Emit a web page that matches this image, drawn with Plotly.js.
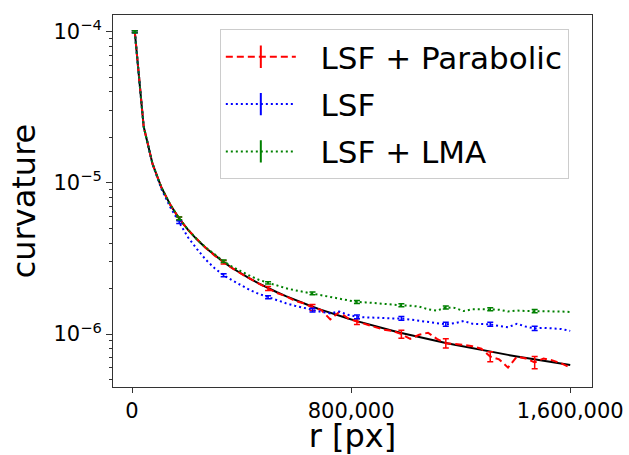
<!DOCTYPE html>
<html>
<head>
<meta charset="utf-8">
<script src="https://cdn.plot.ly/plotly-3.0.1.min.js"></script>
<style>html,body{margin:0;padding:0;background:#fff}#chart{width:629px;height:455px}</style>
</head>
<body>
<div id="chart"></div>
<script>
// radius samples [px]
const rPx = [10000, 42449, 74898, 107347, 139796, 172245, 204694, 237143, 269592, 302041,
  334490, 366939, 399388, 431837, 464286, 496735, 529184, 561633, 594082, 626531,
  658980, 691429, 723878, 756327, 788776, 821225, 853673, 886122, 918571, 951020,
  983469, 1015918, 1048367, 1080816, 1113265, 1145714, 1178163, 1210612, 1243061, 1275510,
  1307959, 1340408, 1372857, 1405306, 1437755, 1470204, 1502653, 1535102, 1567551, 1600000];

// reference curvature (black solid)
const curvTrue = [1.0e-4, 2.356e-5, 1.335e-5, 9.316e-6, 7.153e-6, 5.806e-6, 4.885e-6, 4.217e-6, 3.709e-6, 3.311e-6,
  2.990e-6, 2.725e-6, 2.504e-6, 2.316e-6, 2.154e-6, 2.013e-6, 1.890e-6, 1.781e-6, 1.683e-6, 1.596e-6,
  1.517e-6, 1.446e-6, 1.381e-6, 1.322e-6, 1.268e-6, 1.218e-6, 1.171e-6, 1.129e-6, 1.089e-6, 1.052e-6,
  1.017e-6, 9.843e-7, 9.539e-7, 9.252e-7, 8.983e-7, 8.728e-7, 8.488e-7, 8.260e-7, 8.045e-7, 7.840e-7,
  7.645e-7, 7.460e-7, 7.284e-7, 7.116e-7, 6.955e-7, 6.802e-7, 6.655e-7, 6.514e-7, 6.379e-7, 6.250e-7];

// LSF + Parabolic (red dashed)
const curvParabolic = [1.0e-4, 2.36e-5, 1.33e-5, 9.3e-6, 7.15e-6, 5.8e-6, 4.88e-6, 4.22e-6, 3.71e-6, 3.30e-6,
  2.99e-6, 2.72e-6, 2.50e-6, 2.31e-6, 2.15e-6, 2.00e-6, 1.87e-6, 1.78e-6, 1.66e-6, 1.60e-6,
  1.50e-6, 1.44e-6, 1.25e-6, 1.40e-6, 1.27e-6, 1.21e-6, 1.16e-6, 1.12e-6, 1.07e-6, 1.05e-6,
  1.00e-6, 9.3e-7, 9.9e-7, 1.02e-6, 9.3e-7, 8.7e-7, 8.6e-7, 8.5e-7, 8.3e-7, 8.0e-7,
  7.1e-7, 6.8e-7, 6.0e-7, 7.1e-7, 6.9e-7, 6.5e-7, 6.9e-7, 6.7e-7, 6.4e-7, 6.0e-7];

// LSF (blue dotted)
const curvLSF = [1.0e-4, 2.36e-5, 1.33e-5, 9.1e-6, 6.9e-6, 5.5e-6, 4.35e-6, 3.65e-6, 3.1e-6, 2.72e-6,
  2.45e-6, 2.26e-6, 2.09e-6, 1.95e-6, 1.84e-6, 1.75e-6, 1.67e-6, 1.60e-6, 1.54e-6, 1.49e-6,
  1.44e-6, 1.40e-6, 1.37e-6, 1.41e-6, 1.34e-6, 1.30e-6, 1.29e-6, 1.28e-6, 1.28e-6, 1.27e-6,
  1.27e-6, 1.25e-6, 1.22e-6, 1.20e-6, 1.18e-6, 1.16e-6, 1.18e-6, 1.22e-6, 1.17e-6, 1.16e-6,
  1.16e-6, 1.13e-6, 1.11e-6, 1.17e-6, 1.12e-6, 1.09e-6, 1.10e-6, 1.09e-6, 1.08e-6, 1.05e-6];

// LSF + LMA (green dotted)
const curvLMA = [1.0e-4, 2.36e-5, 1.335e-5, 9.32e-6, 7.16e-6, 5.82e-6, 4.9e-6, 4.23e-6, 3.73e-6, 3.34e-6,
  3.03e-6, 2.78e-6, 2.58e-6, 2.42e-6, 2.28e-6, 2.18e-6, 2.09e-6, 2.01e-6, 1.95e-6, 1.90e-6,
  1.86e-6, 1.80e-6, 1.75e-6, 1.71e-6, 1.67e-6, 1.63e-6, 1.62e-6, 1.60e-6, 1.58e-6, 1.57e-6,
  1.55e-6, 1.54e-6, 1.52e-6, 1.46e-6, 1.43e-6, 1.50e-6, 1.49e-6, 1.42e-6, 1.46e-6, 1.46e-6,
  1.46e-6, 1.45e-6, 1.41e-6, 1.43e-6, 1.42e-6, 1.42e-6, 1.41e-6, 1.41e-6, 1.41e-6, 1.40e-6];

// error bars drawn at these sample indices
const errIdx = [0, 5, 10, 15, 20, 25, 30, 35, 40, 45];
const errParabolic = [1.5e-6, 1.5e-7, 8e-8, 6e-8, 7e-8, 5.5e-8, 6e-8, 6e-8, 5.5e-8, 6e-8];
const errLSF = [1.5e-6, 1.2e-7, 6e-8, 4e-8, 4e-8, 3.5e-8, 3.5e-8, 3.5e-8, 3.5e-8, 3.5e-8];
const errLMA = [1.5e-6, 1.2e-7, 6e-8, 4e-8, 4e-8, 3.5e-8, 3.5e-8, 3.5e-8, 3.5e-8, 3.5e-8];

const seriesNames = ['LSF + Parabolic', 'LSF', 'LSF + LMA'];
const xTickVals = [0, 800000, 1600000];
const xTickText = ['0', '800,000', '1,600,000'];
const yTickVals = [1e-6, 1e-5, 1e-4];
const yTickText = ['10<sup>\u22126</sup>', '10<sup>\u22125</sup>', '10<sup>\u22124</sup>'];

function errArray(vals) {
  const a = rPx.map(() => NaN);
  errIdx.forEach((k, j) => { a[k] = vals[j]; });
  return a;
}

const FONT = 'DejaVu Sans, sans-serif';
const colors = ['#ff0000', '#0000ff', '#008000'];
const dashes = ['7px,4px', '2px,3px', '2px,3px'];
const ys = [curvParabolic, curvLSF, curvLMA];
const errs = [errParabolic, errLSF, errLMA];
const PAD = '\u00a0\u00a0';

const traces = [{
  x: rPx, y: curvTrue, mode: 'lines', showlegend: false, hoverinfo: 'skip',
  line: {color: '#000000', width: 2}
}];
for (let s = 0; s < 3; s++) {
  traces.push({
    x: rPx, y: ys[s], mode: 'lines', showlegend: false, name: seriesNames[s],
    line: {color: colors[s], width: 2, dash: dashes[s]},
    error_y: {type: 'data', array: errArray(errs[s]), visible: true, color: colors[s], thickness: 1.5, width: 3}
  });
}
for (let s = 0; s < 3; s++) {
  traces.push({
    x: [null], y: [null], mode: 'lines+markers', name: PAD + seriesNames[s], showlegend: true,
    legendgroup: 'g' + s,
    line: {color: colors[s], width: 2, dash: dashes[s]},
    marker: {symbol: 'line-ns-open', size: 30, color: colors[s], line: {color: colors[s], width: 2}}
  });
}

const layout = {
  width: 629, height: 455,
  margin: {l: 113, r: 37, t: 15, b: 68, pad: 0},
  paper_bgcolor: '#ffffff', plot_bgcolor: '#ffffff',
  font: {family: FONT, color: '#000000'},
  showlegend: true,
  legend: {
    x: 0.223, y: 0.962, xanchor: 'left', yanchor: 'top',
    bgcolor: 'rgba(255,255,255,0.8)', bordercolor: '#cccccc', borderwidth: 1,
    font: {family: FONT, size: 31, color: '#000000'},
    itemwidth: 70, tracegroupgap: 4, traceorder: 'grouped'
  },
  xaxis: {
    range: [-69500, 1679500], showgrid: false, zeroline: false,
    showline: true, mirror: true, linecolor: '#333333', linewidth: 1,
    ticks: 'outside', ticklen: 5, tickwidth: 1, tickcolor: '#333333',
    tickvals: xTickVals, ticktext: xTickText,
    tickfont: {family: FONT, size: 21, color: '#000000'},
    title: {text: 'r [px]', font: {family: FONT, size: 32, color: '#000000'}, standoff: 8},
    automargin: false
  },
  yaxis: {
    type: 'log', range: [-6.35, -3.89], showgrid: false, zeroline: false,
    showline: true, mirror: true, linecolor: '#333333', linewidth: 1,
    ticks: 'outside', ticklen: 6, tickwidth: 1, tickcolor: '#333333',
    tickvals: yTickVals, ticktext: yTickText,
    tickfont: {family: FONT, size: 21, color: '#000000'},
    minor: {ticks: 'outside', ticklen: 3.5, tickwidth: 1, tickcolor: '#333333', dtick: 'D1', showgrid: false},
    title: {text: 'curvature', font: {family: FONT, size: 32, color: '#000000'}, standoff: 8},
    automargin: false
  }
};

Plotly.newPlot('chart', traces, layout, {staticPlot: true, displayModeBar: false});
</script>
</body>
</html>
